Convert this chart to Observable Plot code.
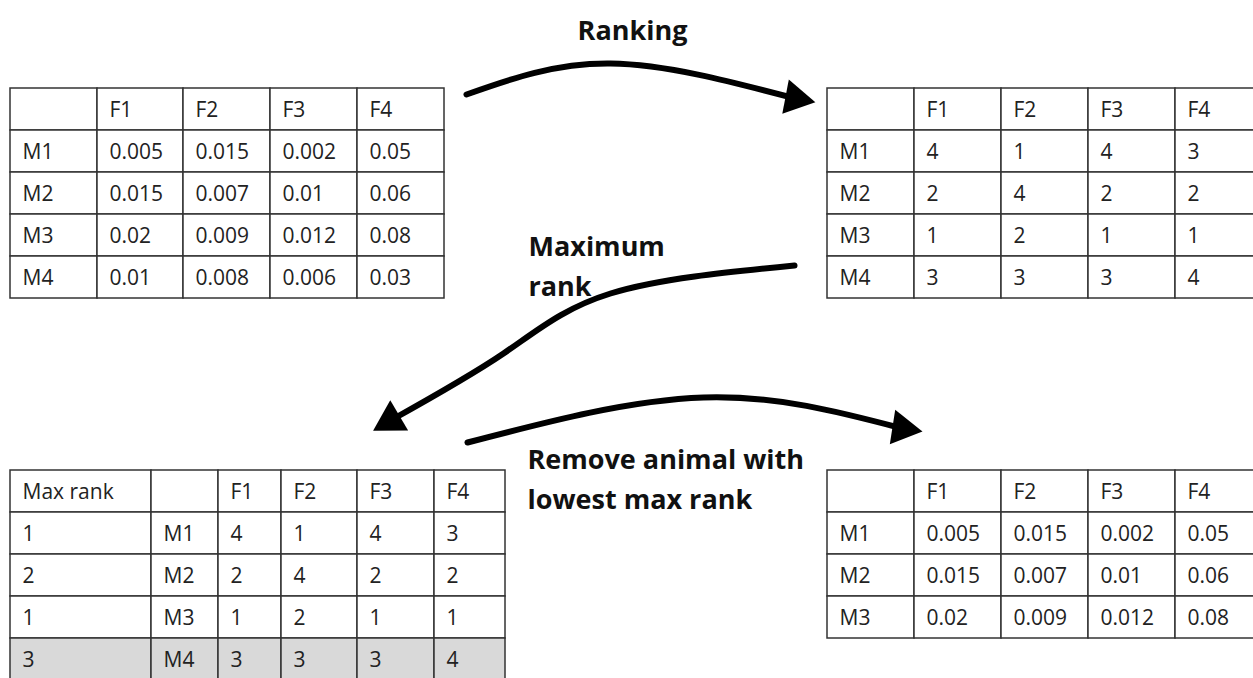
<!DOCTYPE html>
<html><head><meta charset="utf-8">
<script src="https://cdn.jsdelivr.net/npm/d3@7"></script>
<script src="https://cdn.jsdelivr.net/npm/@observablehq/plot@0.6"></script>
<style>body{margin:0;background:#fff;overflow:hidden}</style>
</head><body><div id="chart"></div>
<script>
// ---- data ----
const features = ["F1","F2","F3","F4"];
const animals = ["M1","M2","M3","M4"];
const values = [
  ["0.005","0.015","0.002","0.05"],
  ["0.015","0.007","0.01","0.06"],
  ["0.02","0.009","0.012","0.08"],
  ["0.01","0.008","0.006","0.03"]];
const ranks = [["4","1","4","3"],["2","4","2","2"],["1","2","1","1"],["3","3","3","4"]];
const maxRank = ["1","2","1","3"];
const removed = "M4";
const titleLabel = [{text:"Ranking", x:632, y:39}];
const labels = [
  {text:"Maximum", x:528, y:255},
  {text:"rank", x:528, y:295},
  {text:"Remove animal with", x:527, y:468},
  {text:"lowest max rank", x:527, y:508}];
const arrows = [
  [[466,94],[610,63],[795,98]],
  [[794,265],[610,293],[503,353],[390,420]],
  [[467,442],[703,397],[902,428]]];

// ---- layout ----
function table(rows, colEdges, top, rowH, shadeRow){
  const cells=[];
  rows.forEach((r,i)=>r.forEach((t,j)=>{
    cells.push({x1:colEdges[j],x2:colEdges[j+1],y1:top+i*rowH,y2:top+(i+1)*rowH,text:t,
      fill:(i===shadeRow)?"#d9d9d9":"white"});
  }));
  return cells;
}
const hdr = ["",...features];
const t1 = [hdr, ...animals.map((a,i)=>[a,...values[i]])];
const t2 = [hdr, ...animals.map((a,i)=>[a,...ranks[i]])];
const t3 = [["Max rank","",...features], ...animals.map((a,i)=>[maxRank[i],a,...ranks[i]])];
const keep = animals.map((a,i)=>i).filter(i=>animals[i]!==removed);
const t4 = [hdr, ...keep.map(i=>[animals[i],...values[i]])];
const cells = [
  ...table(t1,[10,97,183,270,357,444],88,42,-1),
  ...table(t2,[827,914,1001,1088,1175,1265],88,42,-1),
  ...table(t3,[10,151,218,281,357,434,505],470,42,1+animals.indexOf(removed)),
  ...table(t4,[827,914,1001,1088,1175,1265],470,42,-1)];

const arrowLines = arrows.flatMap((pts,k)=>pts.map(p=>({x:p[0],y:p[1],k})));
const heads = arrows.map(pts=>{
  const a=pts[pts.length-2], b=pts[pts.length-1];
  const ang = Math.atan2(b[0]-a[0], -(b[1]-a[1]))*180/Math.PI;
  return {x:b[0],y:b[1],rotate:ang};
});

const plot = Plot.plot({
  width:1253, height:678, margin:0,
  x:{domain:[0,1253],axis:null}, y:{domain:[0,678],axis:null,reverse:true},
  style:{fontFamily:"'Open Sans', sans-serif", background:"white"},
  marks:[
    Plot.rect(cells,{x1:"x1",x2:"x2",y1:"y1",y2:"y2",fill:"fill",stroke:"#333",strokeWidth:1.5}),
    Plot.text(cells,{x:d=>d.x1+12,y:d=>d.y1+22,text:"text",textAnchor:"start",fontSize:21,fill:"#222"}),
    Plot.line(arrowLines,{x:"x",y:"y",z:"k",curve:"natural",stroke:"black",strokeWidth:6}),
    Plot.dot(heads,{x:"x",y:"y",rotate:"rotate",symbol:"triangle",r:13,fill:"black",stroke:null}),
    Plot.text(titleLabel,{x:"x",y:"y",text:"text",textAnchor:"middle",lineAnchor:"bottom",fontSize:27,fontWeight:"bold",fill:"#111"}),
    Plot.text(labels,{x:"x",y:"y",text:"text",textAnchor:"start",lineAnchor:"bottom",fontSize:27,fontWeight:"bold",fill:"#111"})
  ]
});
document.getElementById("chart").appendChild(plot);
</script></body></html>
